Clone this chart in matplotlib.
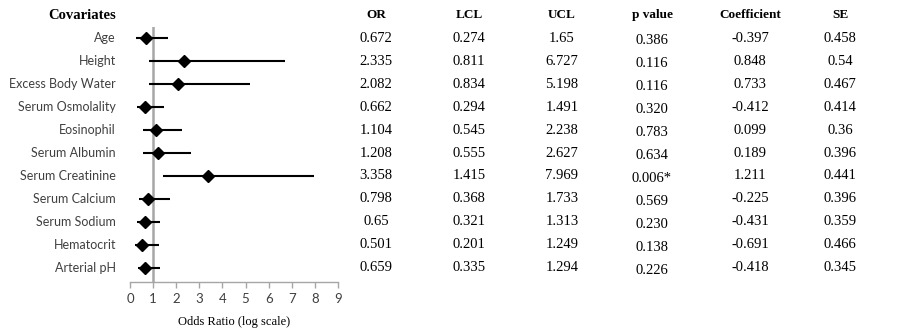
import matplotlib.pyplot as plt
from matplotlib.transforms import blended_transform_factory

# Logistic regression summary per covariate
covariates = ['Age', 'Height', 'Excess Body Water', 'Serum Osmolality', 'Eosinophil',
              'Serum Albumin', 'Serum Creatinine', 'Serum Calcium', 'Serum Sodium',
              'Hematocrit', 'Arterial pH']
odds_ratio = [0.672, 2.335, 2.082, 0.662, 1.104, 1.208, 3.358, 0.798, 0.65, 0.501, 0.659]
lcl = [0.274, 0.811, 0.834, 0.294, 0.545, 0.555, 1.415, 0.368, 0.321, 0.201, 0.335]
ucl = [1.65, 6.727, 5.198, 1.491, 2.238, 2.627, 7.969, 1.733, 1.313, 1.249, 1.294]
p_value = ['0.386', '0.116', '0.116', '0.320', '0.783', '0.634', '0.006*', '0.569',
           '0.230', '0.138', '0.226']
coefficient = ['-0.397', '0.848', '0.733', '-0.412', '0.099', '0.189', '1.211', '-0.225',
               '-0.431', '-0.691', '-0.418']
se = ['0.458', '0.54', '0.467', '0.414', '0.36', '0.396', '0.441', '0.396', '0.359',
      '0.466', '0.345']
x_ticks = list(range(0, 10))

W, H = 899, 331
fig = plt.figure(figsize=(W / 100, H / 100), dpi=100)
# axes box in pixels: left 130, right 338, top 27, bottom 282
ax = fig.add_axes([130 / W, (H - 282) / H, 208 / W, 255 / H])

grey_txt = '#404040'
sans = ['Lato', 'DejaVu Sans']
serif = ['Liberation Serif', 'DejaVu Serif']

rows = list(range(len(covariates)))
ax.axvline(1, color='#a6a6a6', lw=1.8, zorder=1)
ax.hlines(rows, lcl, ucl, color='black', lw=1.5, zorder=2)
ax.plot(odds_ratio, rows, 'D', color='black', ms=6.3, zorder=3)

ax.set_xlim(0, 9)
ax.set_ylim(10.61, -0.48)
ax.set_xticks(x_ticks)
ax.set_xticklabels([str(t) for t in x_ticks], family=sans, fontsize=9.5, color=grey_txt)
ax.set_yticks([])
for s in ['left', 'right', 'top']:
    ax.spines[s].set_visible(False)
ax.spines['bottom'].set_color('#a6a6a6')
ax.spines['bottom'].set_linewidth(1.0)
ax.tick_params(axis='x', direction='out', length=4, width=1.0, color='#a6a6a6', pad=4)
ax.set_xlabel('Odds Ratio (log scale)', family=serif, fontsize=9, labelpad=8)

# labels and table share the data rows
trans = blended_transform_factory(fig.transFigure, ax.transData)
ax.text(116 / W, -1, 'Covariates', transform=trans, ha='right', va='center',
        family=serif, fontsize=10.5, fontweight='bold', clip_on=False)
for r, name in zip(rows, covariates):
    ax.text(116 / W, r, name, transform=trans, ha='right', va='center',
            family=sans, fontsize=9, color=grey_txt, clip_on=False)

columns = [
    ('OR', 376, [str(v) for v in odds_ratio], 0.0),
    ('LCL', 469, [str(v) for v in lcl], 0.0),
    ('UCL', 562, [str(v) for v in ucl], 0.0),
    ('p value', 652, p_value, 0.12),
    ('Coefficient', 750, coefficient, 0.0),
    ('SE', 840, se, 0.0),
]
for head, xc, vals, dy in columns:
    ax.text(xc / W, -1, head, transform=trans, ha='center', va='center',
            family=serif, fontsize=9.5, fontweight='bold', clip_on=False)
    for r, v in zip(rows, vals):
        ax.text(xc / W, r + dy, v, transform=trans, ha='center', va='center',
                family=serif, fontsize=10.5, clip_on=False)

fig.savefig('out.png', dpi=100)
